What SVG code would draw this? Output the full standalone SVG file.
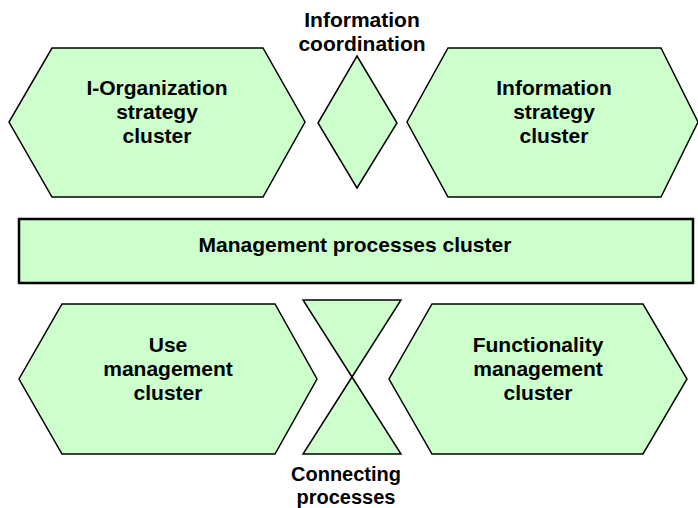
<svg xmlns="http://www.w3.org/2000/svg" width="698" height="508" viewBox="0 0 698 508">
<style>
.shape{fill:#CCFFCC;stroke:#000;stroke-width:1.5;stroke-linejoin:miter}
.box{fill:#CCFFCC;stroke:#000;stroke-width:2.5}
text{font-family:"Liberation Sans",Arial,sans-serif;font-weight:bold;font-size:21px;fill:#000;text-anchor:middle}
.small{font-size:20px}
</style>
<rect width="698" height="508" fill="#fff"/>
<g id="connectors"/>
<g id="i-organization">
<polygon class="shape" points="52,48 263,48 305,122 263,197 52,197 9,122"/>
<text x="157" y="95">I-Organization</text>
<text x="157" y="119">strategy</text>
<text x="157" y="143">cluster</text>
</g>
<g id="information-coordination">
<polygon class="shape" points="357,56 397,123 357,188 318,123"/>
<text x="362" y="27">Information</text>
<text x="362" y="51">coordination</text>
</g>
<g id="information-strategy">
<polygon class="shape" points="448,48 661,48 698,122 661,197 448,197 407,122"/>
<text x="554" y="95">Information</text>
<text x="554" y="119">strategy</text>
<text x="554" y="143">cluster</text>
</g>
<g id="management-processes">
<rect class="box" x="19" y="219" width="674" height="64"/>
<text x="355" y="252">Management processes cluster</text>
</g>
<g id="use-management">
<polygon class="shape" points="62,304 275,304 317,379 275,454 62,454 19,379"/>
<text x="168" y="352">Use</text>
<text x="168" y="376">management</text>
<text x="168" y="400">cluster</text>
</g>
<g id="connecting-processes">
<polygon class="shape" points="303,300 401,300 352,377"/>
<polygon class="shape" points="352,377 401,454 303,454"/>
<text class="small" x="346" y="481">Connecting</text>
<text class="small" x="346" y="504">processes</text>
</g>
<g id="functionality-management">
<polygon class="shape" points="432,304 643,304 687,379 643,454 432,454 389,379"/>
<text x="538" y="352">Functionality</text>
<text x="538" y="376">management</text>
<text x="538" y="400">cluster</text>
</g>
</svg>
